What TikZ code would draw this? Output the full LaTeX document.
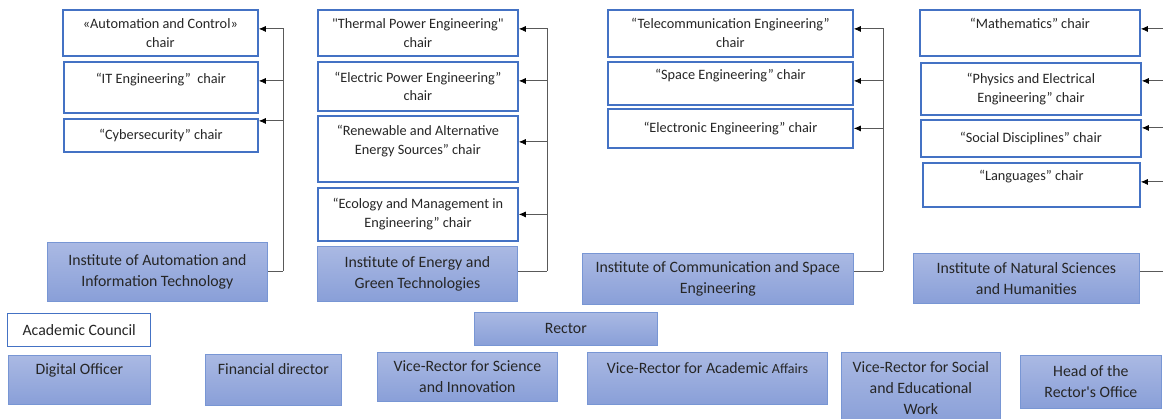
\documentclass[tikz,border=0pt]{standalone}
\usepackage{fontspec}
\setmainfont{Carlito}
\usetikzlibrary{arrows.meta,positioning}
\definecolor{chairblue}{RGB}{68,114,196}
\definecolor{boxtop}{RGB}{170,185,227}
\definecolor{boxbot}{RGB}{137,159,216}
\definecolor{boxline}{RGB}{120,150,212}
\begin{document}
\begin{tikzpicture}[x=1pt, y=-1pt,
		chair/.style={draw=chairblue, line width=1.8pt, fill=white, anchor=north west, align=center, inner sep=0pt, text=black!85, font=\fontsize{14.3}{19}\selectfont},
		inst/.style={draw=boxline, line width=0.8pt, top color=boxtop, bottom color=boxbot, anchor=north west, align=center, inner sep=0pt, text=black!85, font=\fontsize{15.8}{21}\selectfont},
		link/.style={draw=black!65, line width=0.8pt},
		arr/.style={link, -{Latex[length=7pt,width=6pt,color=black]}}]
		\useasboundingbox (0,0) rectangle (1163,419);
		\clip (0,0) rectangle (1163,419);
		% institute of automation
		\node [chair, minimum width=195, minimum height=46] (chairA1) at (62,9) {«Automation and Control»\\chair};
		\node [chair, minimum width=194, minimum height=51] (chairA2) at (63,61) {“IT Engineering”\ \ chair\\ \mbox{}};
		\node [chair, minimum width=194, minimum height=33] (chairA3) at (63,118) {“Cybersecurity” chair};
		\node [inst, minimum width=220, minimum height=59] (instA) at (47,242) {Institute of Automation and\\Information Technology};
		\coordinate (busA) at (283,271);
		\draw [link] (instA.east |- busA) -- (busA);
		\draw [arr] (busA) |- ([yshift=4]chairA1.east);
		\draw [arr] (busA) |- ([yshift=6.5]chairA2.east);
		\draw [arr] (busA) |- ([yshift=14.5]chairA3.east);
		% institute of energy
		\node [chair, minimum width=200, minimum height=46] (chairB1) at (317,9) {\textquotedbl Thermal Power Engineering\textquotedbl\\chair};
		\node [chair, minimum width=200, minimum height=49] (chairB2) at (317,61) {“Electric Power Engineering”\\chair};
		\node [chair, minimum width=200, minimum height=66] (chairB3) at (317,115) {“Renewable and Alternative\\Energy Sources” chair\\ \mbox{}};
		\node [chair, minimum width=200, minimum height=53] (chairB4) at (317,187) {“Ecology and Management in\\Engineering” chair};
		\node [inst, minimum width=200, minimum height=55] (instB) at (317,246) {Institute of Energy and\\Green Technologies};
		\coordinate (busB) at (547,271);
		\draw [link] (instB.east |- busB) -- (busB);
		\draw [arr] (busB) |- ([yshift=4]chairB1.east);
		\draw [arr] (busB) |- ([yshift=5.5]chairB2.east);
		\draw [arr] (busB) |- ([yshift=7]chairB3.east);
		\draw [arr] (busB) |- (chairB4.east);
		% institute of communication
		\node [chair, minimum width=245, minimum height=47] (chairC1) at (607,9) {“Telecommunication Engineering”\\chair};
		\node [chair, minimum width=245, minimum height=43] (chairC2) at (607,61) {“Space Engineering” chair\\ \mbox{}};
		\node [chair, minimum width=245, minimum height=39] (chairC3) at (607,108) {“Electronic Engineering” chair};
		\node [inst, minimum width=271, minimum height=51] (instC) at (582,253) {Institute of Communication and Space\\Engineering};
		\coordinate (busC) at (883,271);
		\draw [link] (instC.east |- busC) -- (busC);
		\draw [arr] (busC) |- ([yshift=4.5]chairC1.east);
		\draw [arr] (busC) |- ([yshift=2.5]chairC2.east);
		\draw [arr] (busC) |- (chairC3.east);
		% institute of natural sciences
		\node [chair, minimum width=220, minimum height=46] (chairD1) at (919,9) {“Mathematics” chair\\ \mbox{}};
		\node [chair, minimum width=220, minimum height=52] (chairD2) at (920,62) {“Physics and Electrical\\Engineering” chair};
		\node [chair, minimum width=220, minimum height=37] (chairD3) at (920,119) {“Social Disciplines” chair};
		\node [chair, minimum width=217, minimum height=44] (chairD4) at (922,162) {“Languages” chair\\ \mbox{}};
		\node [inst, minimum width=226, minimum height=50] (instD) at (913,253) {Institute of Natural Sciences\\and Humanities};
		\coordinate (busD) at (1180,271);
		\draw [link] (instD.east |- busD) -- (busD);
		\draw [arr] (busD) |- ([yshift=4]chairD1.east);
		\draw [arr] (busD) |- ([yshift=8]chairD2.east);
		\draw [arr] (busD) |- ([yshift=10.5]chairD3.east);
		\draw [arr] (busD) |- ([yshift=3]chairD4.east);
		% administration
		\node [chair, line width=1.4pt, minimum width=143, minimum height=33, font=\fontsize{15.8}{21}\selectfont] (council) at (7,313) {Academic Council};
		\node [inst, minimum width=183, minimum height=33] (rector) at (474,312) {Rector};
		\node [inst, minimum width=142, minimum height=49] (digital) at (8,355) {Digital Officer\\ \mbox{}};
		\node [inst, minimum width=136, minimum height=51] (finance) at (205,354) {Financial director\\ \mbox{}};
		\node [inst, minimum width=180, minimum height=49] (viceSci) at (377,352) {Vice-Rector for Science\\and Innovation};
		\node [inst, minimum width=240, minimum height=52] (viceAcad) at (587,352) {Vice-Rector for Academic {\fontsize{14}{19}\selectfont Affairs}\\ \mbox{}};
		\node [inst, minimum width=159, minimum height=72] (viceSoc) at (841,352) {Vice-Rector for Social\\and Educational\\Work};
		\node [inst, minimum width=141, minimum height=53] (head) at (1020,355) {Head of the\\Rector\textquotesingle s Office};
	\end{tikzpicture}
\end{document}
